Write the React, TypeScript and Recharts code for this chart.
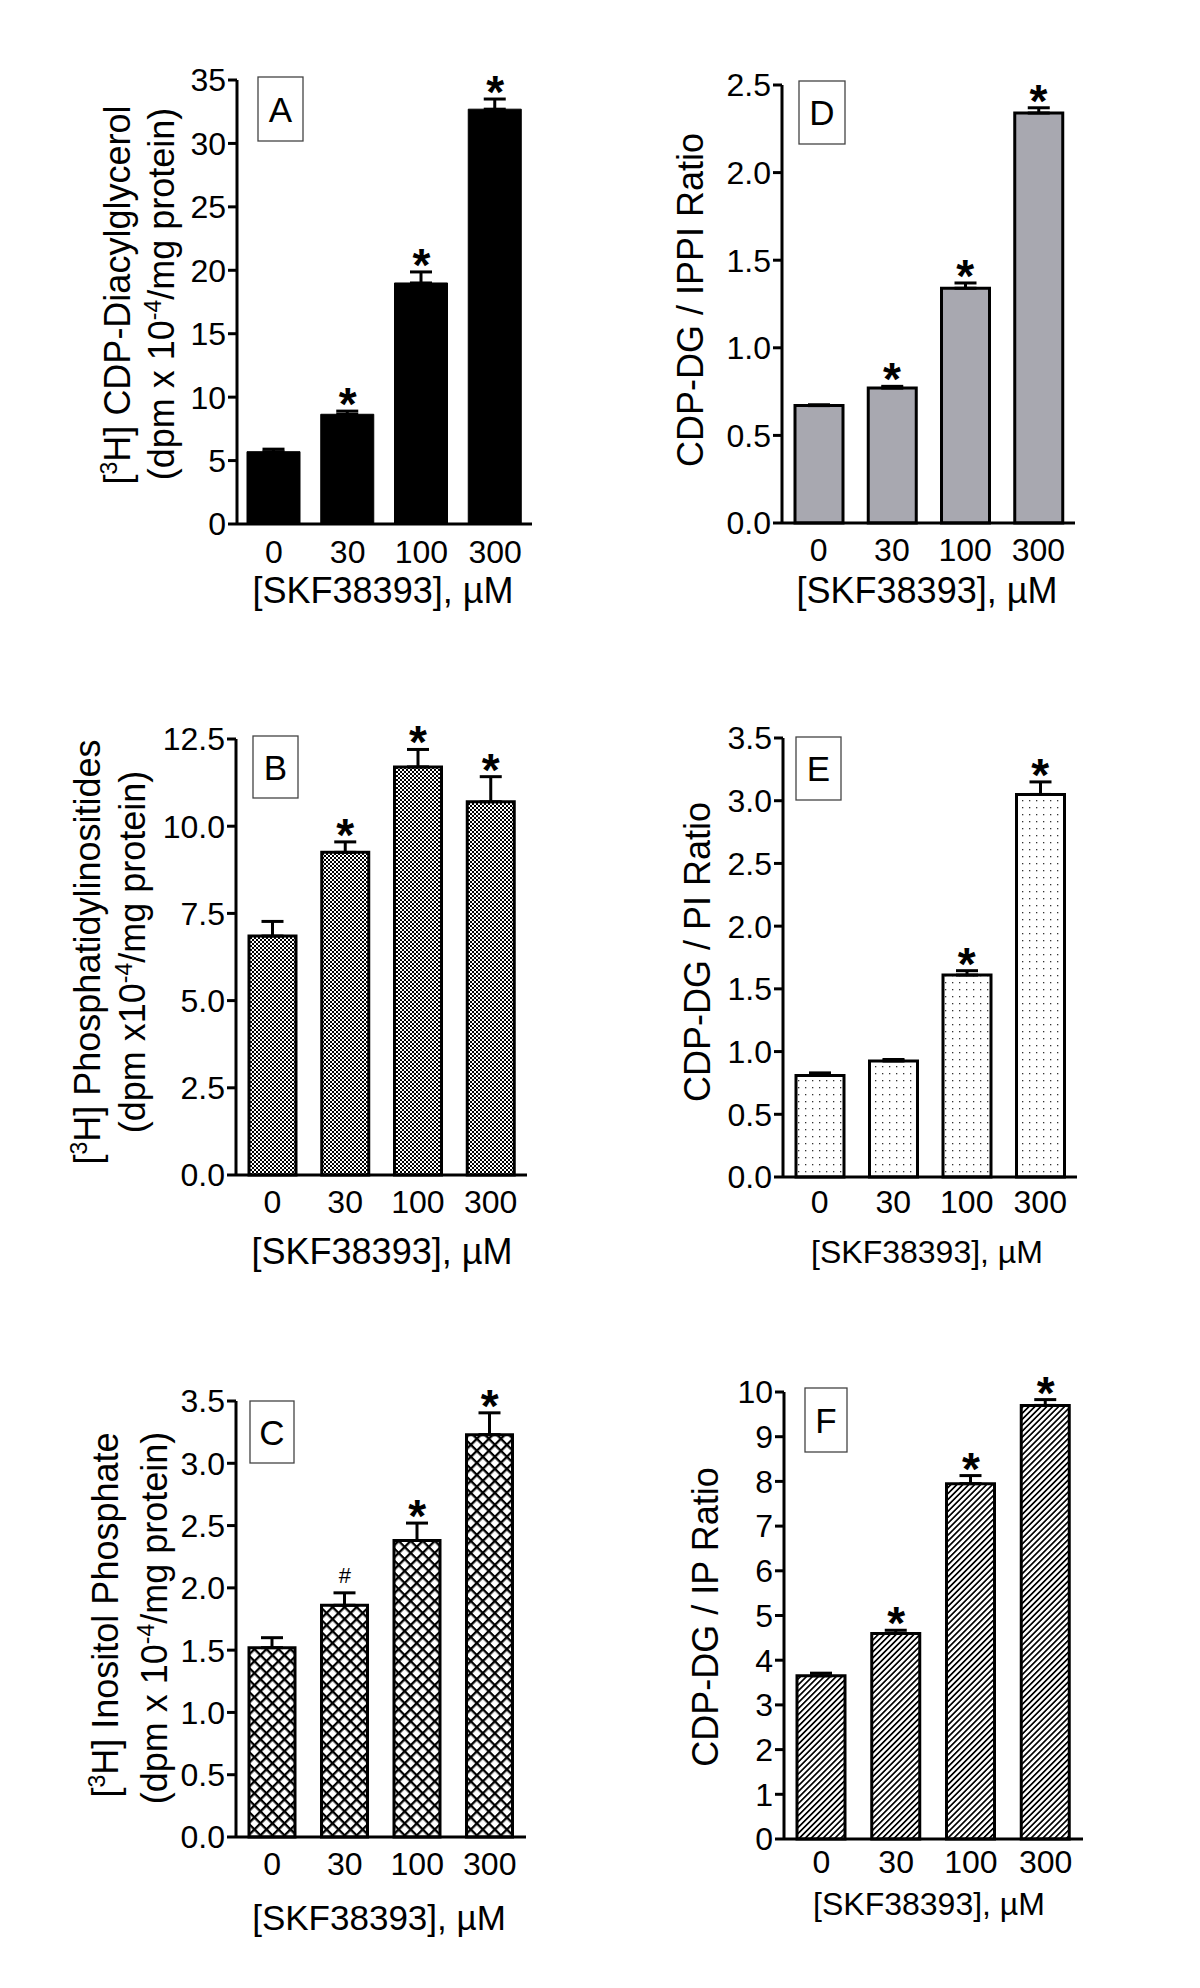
import React from 'react';
import { ComposedChart, Bar, XAxis, YAxis, ErrorBar, Scatter } from 'recharts';

// ---------- data ----------
const doses = ['0', '30', '100', '300'];

const cdpdgValues = [5.7, 8.65, 19.0, 32.7];
const cdpdgErrors = [0.2, 0.25, 0.87, 0.8];
const cdpdgMarks = ['', '*', '*', '*'];

const ptdInsValues = [6.85, 9.25, 11.7, 10.7];
const ptdInsErrors = [0.42, 0.3, 0.5, 0.72];
const ptdInsMarks = ['', '*', '*', '*'];

const ipValues = [1.52, 1.86, 2.38, 3.23];
const ipErrors = [0.08, 0.1, 0.14, 0.175];
const ipMarks = ['', '#', '*', '*'];

const ippiRatioValues = [0.67, 0.77, 1.34, 2.34];
const ippiRatioErrors = [0.005, 0.01, 0.03, 0.03];
const ippiRatioMarks = ['', '*', '*', '*'];

const piRatioValues = [0.81, 0.925, 1.61, 3.05];
const piRatioErrors = [0.02, 0.012, 0.035, 0.1];
const piRatioMarks = ['', '', '*', '*'];

const ipRatioValues = [3.65, 4.6, 7.95, 9.7];
const ipRatioErrors = [0.06, 0.07, 0.18, 0.13];
const ipRatioMarks = ['', '*', '*', '*'];

const ticksA = [0, 5, 10, 15, 20, 25, 30, 35];
const ticksB = [0, 2.5, 5, 7.5, 10, 12.5];
const ticksC = [0, 0.5, 1, 1.5, 2, 2.5, 3, 3.5];
const ticksD = [0, 0.5, 1, 1.5, 2, 2.5];
const ticksE = [0, 0.5, 1, 1.5, 2, 2.5, 3, 3.5];
const ticksF = [0, 1, 2, 3, 4, 5, 6, 7, 8, 9, 10];

const xAxisTitle = '[SKF38393], \u00B5M';

// ---------- layout / style ----------
const FONT = '"Liberation Sans", Arial, Helvetica, sans-serif';
const YW = 240;
const MT = 60;
const MR = 20;
const XH = 120;
const TICK_FS = 32;
const YLABEL_FS = 36;

type Part = { t: string; sup?: boolean };
type Line = { x: number; cy: number; parts: Part[] };

const fmt0 = (v: number) => String(v);
const fmt1 = (v: number) => v.toFixed(1);

const panels = [
  {
    id: 'A', values: cdpdgValues, errors: cdpdgErrors, marks: cdpdgMarks, ticks: ticksA, fmt: fmt0,
    plot: { l: 237, r: 532, t: 80, b: 524 }, barSize: 53, fill: '#000', strokeW: 1,
    yLabel: [
      { x: 130, cy: 295, parts: [{ t: '[' }, { t: '3', sup: true }, { t: 'H] CDP-Diacylglycerol' }] },
      { x: 174, cy: 294, parts: [{ t: '(dpm x 10' }, { t: '-4', sup: true }, { t: '/mg protein)' }] },
    ] as Line[],
    box: { x: 258, y: 77, w: 45, h: 64 },
    xTickBase: 39, xLabel: { cx: 383, base: 603, fs: 36 },
  },
  {
    id: 'D', values: ippiRatioValues, errors: ippiRatioErrors, marks: ippiRatioMarks, ticks: ticksD, fmt: fmt1,
    plot: { l: 782, r: 1075, t: 85, b: 523 }, barSize: 48, fill: '#a8a8b0', strokeW: 3,
    yLabel: [{ x: 703, cy: 300, parts: [{ t: 'CDP-DG / IPPI Ratio' }] }] as Line[],
    box: { x: 799, y: 81, w: 46, h: 63 },
    xTickBase: 38, xLabel: { cx: 927, base: 603, fs: 36 },
  },
  {
    id: 'B', values: ptdInsValues, errors: ptdInsErrors, marks: ptdInsMarks, ticks: ticksB, fmt: fmt1,
    plot: { l: 236, r: 527, t: 739, b: 1175 }, barSize: 47, fill: 'url(#patChecker)', strokeW: 3,
    yLabel: [
      { x: 100, cy: 952, parts: [{ t: '[' }, { t: '3', sup: true }, { t: 'H] Phosphatidylinositides' }] },
      { x: 145, cy: 952, parts: [{ t: '(dpm x10' }, { t: '-4', sup: true }, { t: '/mg protein)' }] },
    ] as Line[],
    box: { x: 253, y: 736, w: 45, h: 62 },
    xTickBase: 38, xLabel: { cx: 382, base: 1264, fs: 36 },
  },
  {
    id: 'E', values: piRatioValues, errors: piRatioErrors, marks: piRatioMarks, ticks: ticksE, fmt: fmt1,
    plot: { l: 783, r: 1077, t: 738, b: 1177 }, barSize: 48, fill: 'url(#patDots)', strokeW: 3,
    yLabel: [{ x: 710, cy: 952, parts: [{ t: 'CDP-DG / PI Ratio' }] }] as Line[],
    box: { x: 796, y: 737, w: 45, h: 63 },
    xTickBase: 36, xLabel: { cx: 927, base: 1263, fs: 32 },
  },
  {
    id: 'C', values: ipValues, errors: ipErrors, marks: ipMarks, ticks: ticksC, fmt: fmt1,
    plot: { l: 236, r: 526, t: 1401, b: 1837 }, barSize: 46, fill: 'url(#patCross)', strokeW: 3,
    yLabel: [
      { x: 118, cy: 1615, parts: [{ t: '[' }, { t: '3', sup: true }, { t: 'H] Inositol Phosphate' }] },
      { x: 167, cy: 1618, parts: [{ t: '(dpm x 10' }, { t: '-4', sup: true }, { t: '/mg protein)' }] },
    ] as Line[],
    box: { x: 250, y: 1401, w: 44, h: 62 },
    xTickBase: 38, xLabel: { cx: 379, base: 1930, fs: 35 },
  },
  {
    id: 'F', values: ipRatioValues, errors: ipRatioErrors, marks: ipRatioMarks, ticks: ticksF, fmt: fmt0,
    plot: { l: 784, r: 1083, t: 1392, b: 1839 }, barSize: 48, fill: 'url(#patHatch)', strokeW: 3,
    yLabel: [{ x: 718, cy: 1617, parts: [{ t: 'CDP-DG / IP Ratio' }] }] as Line[],
    box: { x: 805, y: 1388, w: 42, h: 64 },
    xTickBase: 34, xLabel: { cx: 929, base: 1915, fs: 32 },
  },
];

const Patterns = () => (
  <defs>
    <pattern id="patChecker" width={4} height={4} patternUnits="userSpaceOnUse">
      <rect x={0} y={0} width={4} height={4} fill="#fff" />
      <rect x={0} y={0} width={2} height={2} fill="#000" />
      <rect x={2} y={2} width={2} height={2} fill="#000" />
    </pattern>
    <pattern id="patDots" width={7} height={7} patternUnits="userSpaceOnUse">
      <rect x={0} y={0} width={7} height={7} fill="#fff" />
      <rect x={3} y={3} width={1.3} height={1.3} fill="#333" />
    </pattern>
    <pattern id="patCross" width={8.5} height={8.5} patternUnits="userSpaceOnUse" patternTransform="rotate(45)">
      <rect x={0} y={0} width={8.5} height={8.5} fill="#fff" />
      <rect x={0} y={0} width={2.3} height={8.5} fill="#000" />
      <rect x={0} y={0} width={8.5} height={2.3} fill="#000" />
    </pattern>
    <pattern id="patHatch" width={4.2} height={4.2} patternUnits="userSpaceOnUse" patternTransform="rotate(45)">
      <rect x={0} y={0} width={4.2} height={4.2} fill="#fff" />
      <rect x={0} y={0} width={1.7} height={4.2} fill="#000" />
    </pattern>
  </defs>
);

function Panel({ cfg }: { cfg: any }) {
  const chartLeft = cfg.plot.l - YW;
  const chartTop = cfg.plot.t - MT;
  const width = cfg.plot.r - cfg.plot.l + YW + MR;
  const height = cfg.plot.b - cfg.plot.t + MT + XH;
  const px = (x: number) => x - chartLeft;
  const py = (y: number) => y - chartTop;
  const max = cfg.ticks[cfg.ticks.length - 1];

  const data = cfg.values.map((v: number, i: number) => ({
    dose: doses[i],
    value: v,
    errRange: [0, cfg.errors[i]],
    top: v + cfg.errors[i],
    mark: cfg.marks[i],
  }));

  const renderYLabel = () => (
    <g>
      {cfg.yLabel.map((line: Line, i: number) => (
        <text
          key={i}
          x={px(line.x)}
          y={py(line.cy)}
          transform={`rotate(-90 ${px(line.x)} ${py(line.cy)})`}
          textAnchor="middle"
          fontSize={YLABEL_FS}
          fontFamily={FONT}
          fill="#000"
        >
          {line.parts.map((p, j) =>
            p.sup ? (
              <tspan key={j} dy={-13} fontSize={23}>{p.t}</tspan>
            ) : (
              <tspan key={j} dy={j > 0 && line.parts[j - 1].sup ? 13 : 0}>{p.t}</tspan>
            )
          )}
        </text>
      ))}
      <rect
        x={px(cfg.box.x)}
        y={py(cfg.box.y)}
        width={cfg.box.w}
        height={cfg.box.h}
        fill="#fff"
        stroke="#444"
        strokeWidth={1.3}
      />
      <text
        x={px(cfg.box.x + cfg.box.w / 2)}
        y={py(cfg.box.y + cfg.box.h / 2) + 12.5}
        textAnchor="middle"
        fontSize={35}
        fontFamily={FONT}
        fill="#000"
      >
        {cfg.id}
      </text>
    </g>
  );

  const renderXLabel = () => (
    <text
      x={px(cfg.xLabel.cx)}
      y={py(cfg.xLabel.base)}
      textAnchor="middle"
      fontSize={cfg.xLabel.fs}
      fontFamily={FONT}
      fill="#000"
    >
      {xAxisTitle}
    </text>
  );

  const renderXTick = (p: any) => (
    <text
      x={p.x}
      y={py(cfg.plot.b) + cfg.xTickBase}
      textAnchor="middle"
      fontSize={TICK_FS}
      fontFamily={FONT}
      fill="#000"
    >
      {p.payload.value}
    </text>
  );

  const renderMark = (p: any) => {
    const { cx, cy, payload } = p;
    if (!payload || !payload.mark) return <g />;
    if (payload.mark === '#') {
      return (
        <text x={cx} y={cy - 10} textAnchor="middle" fontSize={22} fontFamily={FONT} fill="#000">#</text>
      );
    }
    return (
      <text x={cx} y={cy + 9} textAnchor="middle" fontSize={46} fontWeight="bold" fontFamily={FONT} fill="#000">*</text>
    );
  };

  return (
    <div style={{ position: 'absolute', left: chartLeft, top: chartTop, width, height }}>
      <ComposedChart
        width={width}
        height={height}
        data={data}
        margin={{ top: MT, right: MR, left: 0, bottom: 0 }}
      >
        <Patterns />
        <XAxis
          dataKey="dose"
          type="category"
          height={XH}
          interval={0}
          tickLine={false}
          tickSize={0}
          tickMargin={0}
          axisLine={{ stroke: '#000', strokeWidth: 3 }}
          tick={renderXTick}
          label={renderXLabel}
        />
        <YAxis
          type="number"
          domain={[0, max]}
          ticks={cfg.ticks}
          interval={0}
          width={YW}
          tickSize={9}
          tickMargin={2}
          tickFormatter={cfg.fmt}
          axisLine={{ stroke: '#000', strokeWidth: 3 }}
          tickLine={{ stroke: '#000', strokeWidth: 3 }}
          tick={{ fontSize: TICK_FS, fill: '#000', fontFamily: FONT }}
          label={renderYLabel}
        />
        <Bar
          dataKey="value"
          fill={cfg.fill}
          stroke="#000"
          strokeWidth={cfg.strokeW}
          barSize={cfg.barSize}
          isAnimationActive={false}
        >
          <ErrorBar dataKey="errRange" direction="y" width={11} stroke="#000" strokeWidth={3} />
        </Bar>
        <Scatter dataKey="top" isAnimationActive={false} shape={renderMark} />
      </ComposedChart>
    </div>
  );
}

export default function App() {
  return (
    <div style={{ position: 'absolute', left: 0, top: 0, width: 1200, height: 1988, background: '#fff', fontFamily: FONT }}>
      {panels.map((cfg) => (
        <Panel key={cfg.id} cfg={cfg} />
      ))}
    </div>
  );
}
